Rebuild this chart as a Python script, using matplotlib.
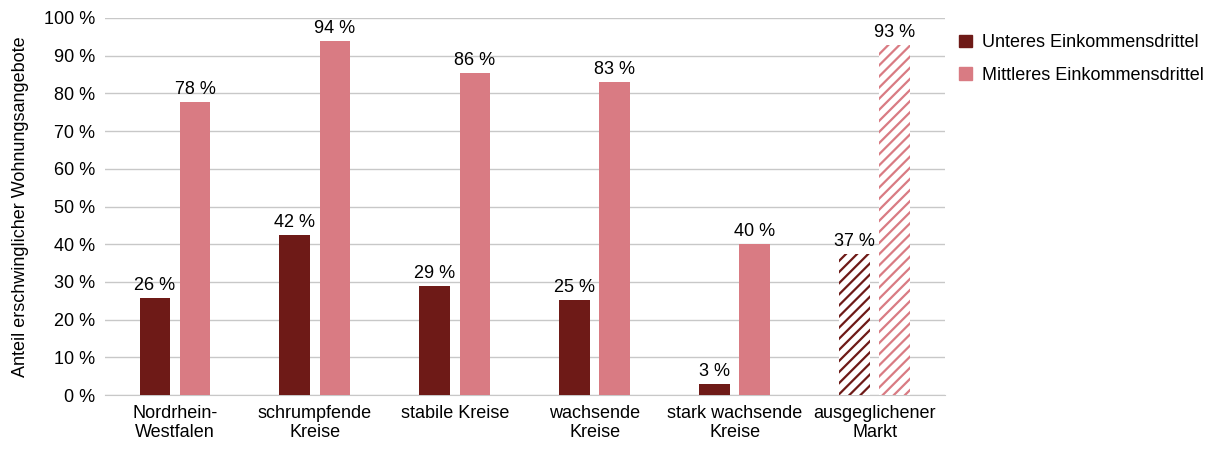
import matplotlib
matplotlib.use("Agg")
import matplotlib.pyplot as plt
import numpy as np

# data
categories = ["Nordrhein-\nWestfalen", "schrumpfende\nKreise", "stabile Kreise",
              "wachsende\nKreise", "stark wachsende\nKreise", "ausgeglichener\nMarkt"]
lower_third = [25.7, 42.4, 28.9, 25.2, 2.9, 37.4]
middle_third = [77.7, 93.9, 85.4, 83.0, 40.0, 92.8]
lower_labels = ["26 %", "42 %", "29 %", "25 %", "3 %", "37 %"]
middle_labels = ["78 %", "94 %", "86 %", "83 %", "40 %", "93 %"]
series_names = ["Unteres Einkommensdrittel", "Mittleres Einkommensdrittel"]

dark = "#6e1a17"
pink = "#d97b83"
fs = 13

plt.rcParams['font.family'] = ['Liberation Sans', 'DejaVu Sans']
plt.rcParams['hatch.linewidth'] = 1.6

fig = plt.figure(figsize=(12.16, 4.5), dpi=100)
ax = fig.add_axes([0.0863, 0.122, 0.6907, 0.838])

x = np.arange(len(categories))
w = 0.22
off = 0.143

b1 = ax.bar(x - off, lower_third, w, color=dark, label=series_names[0], zorder=3)
b2 = ax.bar(x + off, middle_third, w, color=pink, label=series_names[1], zorder=3)

# last group is hatched
for bars, col in ((b1, dark), (b2, pink)):
    p = bars[-1]
    p.set_facecolor("white")
    p.set_edgecolor(col)
    p.set_linewidth(0)
    p.set_hatch("///")

for i in x:
    ax.text(i - off, lower_third[i] + 1.0, lower_labels[i], ha="center", va="bottom", fontsize=fs)
    ax.text(i + off, middle_third[i] + 1.0, middle_labels[i], ha="center", va="bottom", fontsize=fs)

ax.set_ylim(0, 100)
ax.set_xlim(-0.5, len(categories) - 0.5)
ax.set_yticks(range(0, 101, 10))
ax.set_yticklabels([f"{v} %" for v in range(0, 101, 10)], fontsize=fs)
ax.set_xticks(x)
ax.set_xticklabels(categories, fontsize=fs)
ax.set_ylabel("Anteil erschwinglicher Wohnungsangebote", fontsize=fs, labelpad=11)

ax.yaxis.grid(True, color="#c8c8c8", linewidth=1, zorder=0)
for s in ("top", "right", "left"):
    ax.spines[s].set_visible(False)
ax.spines["bottom"].set_color("#c8c8c8")
ax.tick_params(axis="both", length=0, pad=7)

handles = [plt.Rectangle((0, 0), 1, 1, color=dark), plt.Rectangle((0, 0), 1, 1, color=pink)]
ax.legend(handles, series_names, loc="upper left", bbox_to_anchor=(0.998, 1.0),
          frameon=False, fontsize=fs, handlelength=0.7, handleheight=0.7,
          labelspacing=0.85, handletextpad=0.55)

fig.savefig("out.png", dpi=100)
